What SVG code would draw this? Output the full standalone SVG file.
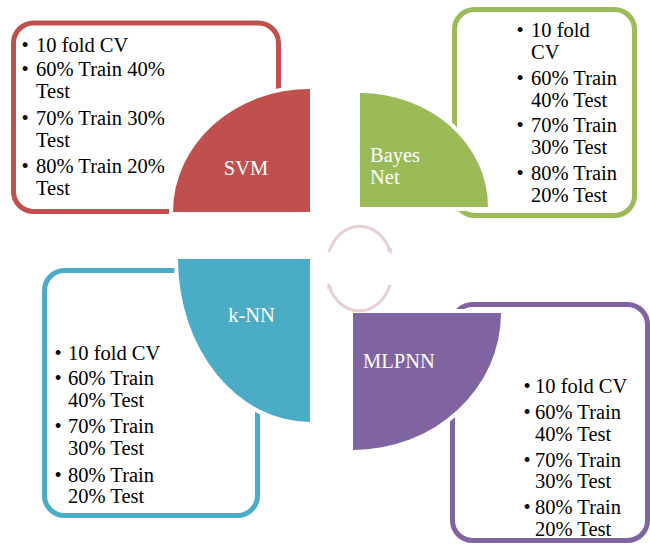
<svg xmlns="http://www.w3.org/2000/svg" width="650" height="545" viewBox="0 0 650 545">
<style>
.box{fill:#fff;stroke-width:5}
.q{stroke:#fff;stroke-width:8;stroke-linejoin:miter;paint-order:stroke}
text{font-family:'Liberation Serif',serif;font-size:20.5px}
.t{fill:#000}
.b{fill:#000;text-anchor:middle}
.l{fill:#fff}
.arc{fill:none;stroke:#e9d0d0;stroke-width:3}
</style>
<defs>
<marker id="ah" viewBox="0 0 10 10" refX="4" refY="5" markerWidth="2" markerHeight="2" orient="auto">
<path d="M0,0 L10,5 L0,10 Z" fill="#e9d0d0"/>
</marker>
</defs>
<rect width="650" height="545" fill="#fff"/>

<g id="svm">
<rect class="box" x="13.5" y="23" width="265" height="188.5" rx="20" stroke="#c0504d"/>
<path class="q" d="M310,212 L173,212 A137,123 0 0 1 310,89 Z" fill="#c0504d"/>
<text class="l" x="246" y="175" text-anchor="middle">SVM</text>
<text class="b" x="25" y="52">•</text><text class="t" x="36" y="52">10 fold CV</text>
<text class="b" x="25" y="76">•</text><text class="t" x="36" y="76">60% Train 40%</text>
<text class="t" x="36" y="98">Test</text>
<text class="b" x="25" y="125">•</text><text class="t" x="36" y="125">70% Train 30%</text>
<text class="t" x="36" y="147">Test</text>
<text class="b" x="25" y="173">•</text><text class="t" x="36" y="173">80% Train 20%</text>
<text class="t" x="36" y="195">Test</text>
</g>

<g id="bayes">
<rect class="box" x="454.5" y="9.5" width="180" height="206" rx="20" stroke="#9bbb59"/>
<path class="q" d="M360,207 L360,93 A128,114 0 0 1 488,207 Z" fill="#9bbb59"/>
<text class="l" x="370" y="162">Bayes</text>
<text class="l" x="370" y="184">Net</text>
<text class="b" x="520" y="37">•</text><text class="t" x="531" y="37">10 fold</text>
<text class="t" x="531" y="59">CV</text>
<text class="b" x="520" y="85">•</text><text class="t" x="531" y="85">60% Train</text>
<text class="t" x="531" y="107">40% Test</text>
<text class="b" x="520" y="132">•</text><text class="t" x="531" y="132">70% Train</text>
<text class="t" x="531" y="154">30% Test</text>
<text class="b" x="520" y="180">•</text><text class="t" x="531" y="180">80% Train</text>
<text class="t" x="531" y="202">20% Test</text>
</g>

<g id="knn">
<rect class="box" x="44.5" y="270.5" width="213" height="245" rx="20" stroke="#4bacc6"/>
<path class="q" d="M310,259 L178,259 A132,163 0 0 0 310,422 Z" fill="#4bacc6"/>
<text class="l" x="251.5" y="322" text-anchor="middle">k-NN</text>
<text class="b" x="58" y="360">•</text><text class="t" x="68" y="360">10 fold CV</text>
<text class="b" x="58" y="385">•</text><text class="t" x="68" y="385">60% Train</text>
<text class="t" x="68" y="407">40% Test</text>
<text class="b" x="58" y="433">•</text><text class="t" x="68" y="433">70% Train</text>
<text class="t" x="68" y="455">30% Test</text>
<text class="b" x="58" y="482">•</text><text class="t" x="68" y="482">80% Train</text>
<text class="t" x="68" y="503">20% Test</text>
</g>

<g id="mlpnn">
<rect class="box" x="452.5" y="304.5" width="195" height="236" rx="20" stroke="#8064a2"/>
<path class="q" d="M353,313 L501,313 A148,137 0 0 1 353,450 Z" fill="#8064a2"/>
<text class="l" x="363" y="368">MLPNN</text>
<text class="b" x="527" y="393">•</text><text class="t" x="535" y="393">10 fold CV</text>
<text class="b" x="527" y="419">•</text><text class="t" x="535" y="419">60% Train</text>
<text class="t" x="535" y="441">40% Test</text>
<text class="b" x="527" y="467">•</text><text class="t" x="535" y="467">70% Train</text>
<text class="t" x="535" y="488">30% Test</text>
<text class="b" x="527" y="514">•</text><text class="t" x="535" y="514">80% Train</text>
<text class="t" x="535" y="536">20% Test</text>
</g>

<g id="connectors">
<path class="arc" d="M329,252 A33,41 0 0 1 390,251" marker-end="url(#ah)"/>
<path class="arc" d="M390,285 A33,41 0 0 1 329,286" marker-end="url(#ah)"/>
</g>
</svg>
